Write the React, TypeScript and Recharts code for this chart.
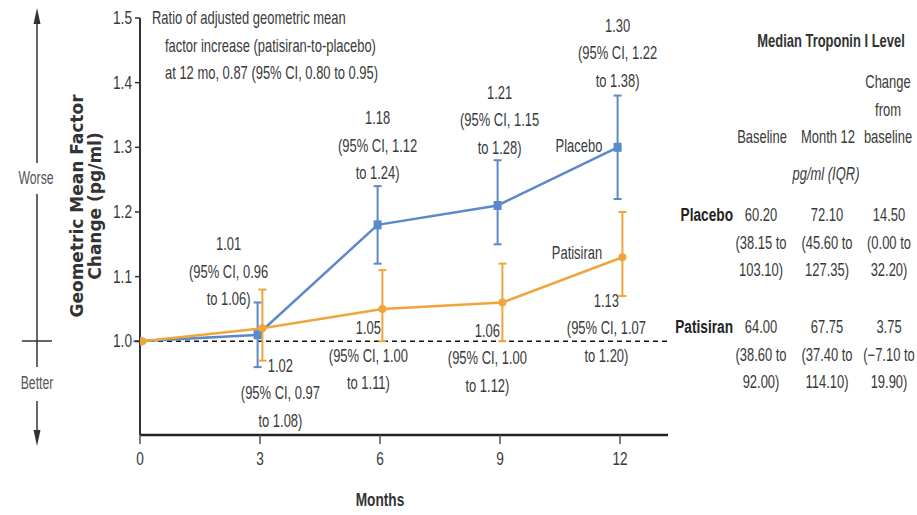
import React from "react"
import {
  LineChart,
  Line,
  XAxis,
  YAxis,
  ReferenceLine,
  ErrorBar,
  LabelList,
} from "recharts"

// months of follow-up
const months = [0, 3, 6, 9, 12]

// geometric mean factor change, with 95% CI
const placeboMean = [1.0, 1.01, 1.18, 1.21, 1.3]
const placeboLow = [1.0, 0.96, 1.12, 1.15, 1.22]
const placeboHigh = [1.0, 1.06, 1.24, 1.28, 1.38]

const patisiranMean = [1.0, 1.02, 1.05, 1.06, 1.13]
const patisiranLow = [1.0, 0.97, 1.0, 1.0, 1.07]
const patisiranHigh = [1.0, 1.08, 1.11, 1.12, 1.2]

const yTicks = [1.0, 1.1, 1.2, 1.3, 1.4, 1.5]

// median troponin I table (pg/ml, IQR)
const tableHeaders = ["Baseline", "Month 12", "baseline"]
const placeboRow = [
  ["60.20", "(38.15 to", "103.10)"],
  ["72.10", "(45.60 to", "127.35)"],
  ["14.50", "(0.00 to", "32.20)"],
]
const patisiranRow = [
  ["64.00", "(38.60 to", "92.00)"],
  ["67.75", "(37.40 to", "114.10)"],
  ["3.75", "(\u22127.10 to", "19.90)"],
]

// label placement relative to each point (layout only)
const placeboLabelPos = [null, { dx: -29, dy: -91 }, { dx: 0, dy: -107 }, { dx: 2, dy: -113 }, { dx: 0, dy: -122 }]
const patisiranLabelPos = [null, { dx: 18, dy: 37 }, { dx: -14, dy: 19 }, { dx: -15, dy: 28 }, { dx: -16, dy: 43 }]

const DODGE = 0.06
const BLUE = "#5b89c9"
const ORANGE = "#f0a53c"
const TEXT = "#3a3a3a"
const FONT = "'Liberation Sans', Arial, sans-serif"

const build = (mean: number[], low: number[], high: number[], shift: number) =>
  months.map((m, i) => ({
    x: m + shift,
    value: mean[i],
    lo: low[i],
    hi: high[i],
    err: [mean[i] - low[i], high[i] - mean[i]],
  }))

const placeboData = build(placeboMean, placeboLow, placeboHigh, -DODGE)
const patisiranData = build(patisiranMean, patisiranLow, patisiranHigh, DODGE)

// condensed-looking text: horizontally squeezed around its anchor
const NText = ({ x, y, anchor = "middle", size = 18, sx = 0.72, weight = "normal", italic = false, fill = TEXT, children }: any) => (
  <text
    transform={`translate(${x},${y}) scale(${sx},1)`}
    textAnchor={anchor}
    dominantBaseline="central"
    fontFamily={FONT}
    fontSize={size}
    fontWeight={weight}
    fontStyle={italic ? "italic" : "normal"}
    fill={fill}
  >
    {children}
  </text>
)

const XTick = (props: any) => {
  const { x, y, payload } = props
  return <NText x={x} y={y + 7} size={18} sx={0.76}>{payload.value}</NText>
}

const YTick = (props: any) => {
  const { x, y, payload } = props
  return <NText x={x} y={y} anchor="end" size={18} sx={0.76}>{payload.value.toFixed(1)}</NText>
}

const makeLabel = (rows: any[], pos: any[]) => (props: any) => {
  const { x, y, index } = props
  const p = pos[index]
  if (!p) return null
  const d = rows[index]
  const lines = [d.value.toFixed(2), `(95% CI, ${d.lo.toFixed(2)}`, `to ${d.hi.toFixed(2)})`]
  return (
    <g>
      {lines.map((t, k) => (
        <NText key={k} x={x + p.dx} y={y + p.dy + k * 27.5}>
          {t}
        </NText>
      ))}
    </g>
  )
}

const SquareDot = (props: any) => {
  const { cx, cy } = props
  if (cx == null || cy == null) return null
  return <rect x={cx - 4} y={cy - 4.5} width={8} height={9} fill={BLUE} />
}

const RoundDot = (props: any) => {
  const { cx, cy } = props
  if (cx == null || cy == null) return null
  return <circle cx={cx} cy={cy} r={4} fill={ORANGE} />
}

export default function App() {
  const colX = [761, 827, 889]
  return (
    <div style={{ position: "absolute", left: 0, top: 0, width: 917, height: 515, background: "#fff" }}>
      <LineChart width={917} height={515} margin={{ top: 18, right: 249, bottom: 50, left: 80 }}>
        <XAxis
          type="number"
          dataKey="x"
          domain={[0, 13.2]}
          allowDataOverflow
          ticks={months}
          height={30}
          tickSize={9}
          tickMargin={8}
          axisLine={{ stroke: "#222", strokeWidth: 2.5 }}
          tickLine={{ stroke: "#555", strokeWidth: 1.5 }}
          tick={<XTick />}
        />
        <YAxis
          type="number"
          domain={[0.855, 1.5]}
          allowDataOverflow
          ticks={yTicks}
          width={60}
          tickSize={5}
          tickMargin={3}
          axisLine={{ stroke: "#333", strokeWidth: 2 }}
          tickLine={{ stroke: "#333", strokeWidth: 1.5 }}
          tick={<YTick />}
        />
        <ReferenceLine y={1} stroke="#111" strokeWidth={1.5} strokeDasharray="5 4" />
        <Line
          data={placeboData}
          dataKey="value"
          stroke={BLUE}
          strokeWidth={2.5}
          dot={<SquareDot />}
          activeDot={false}
          isAnimationActive={false}
        >
          <ErrorBar dataKey="err" direction="y" width={4} stroke={BLUE} strokeWidth={2} />
          <LabelList dataKey="value" content={makeLabel(placeboData, placeboLabelPos)} />
        </Line>
        <Line
          data={patisiranData}
          dataKey="value"
          stroke={ORANGE}
          strokeWidth={2.5}
          dot={<RoundDot />}
          activeDot={false}
          isAnimationActive={false}
        >
          <ErrorBar dataKey="err" direction="y" width={4} stroke={ORANGE} strokeWidth={2} />
          <LabelList dataKey="value" content={makeLabel(patisiranData, patisiranLabelPos)} />
        </Line>
      </LineChart>

      <svg width={917} height={515} style={{ position: "absolute", left: 0, top: 0, pointerEvents: "none" }}>
        {/* worse / better arrow */}
        <g stroke="#333" strokeWidth={1.5}>
          <line x1={37} y1={22} x2={37} y2={163} />
          <line x1={37} y1={194} x2={37} y2={367} />
          <line x1={37} y1={401} x2={37} y2={432} />
          <line x1={22} y1={341} x2={52} y2={341} />
        </g>
        <polygon points="37,8 33.5,24 40.5,24" fill="#333" />
        <polygon points="37,446 33.5,430 40.5,430" fill="#333" />
        <NText x={36} y={178} size={18} sx={0.68} fill="#555">Worse</NText>
        <NText x={37} y={383} size={18} sx={0.68} fill="#555">Better</NText>

        {/* y axis title */}
        <g transform="translate(92,206) rotate(-90)" fontFamily="'DejaVu Sans', Verdana, sans-serif" fontWeight="bold" fontSize={17} fill="#333">
          <text x={0} y={-9} textAnchor="middle">Geometric Mean Factor</text>
          <text x={0} y={9} textAnchor="middle">Change (pg/ml)</text>
        </g>

        <NText x={380} y={500} size={19} weight="bold" fill="#333">Months</NText>

        {/* ratio annotation */}
        <NText x={152} y={18} anchor="start">Ratio of adjusted geometric mean</NText>
        <NText x={165} y={46} anchor="start">factor increase (patisiran-to-placebo)</NText>
        <NText x={165} y={73} anchor="start">at 12 mo, 0.87 (95% CI, 0.80 to 0.95)</NText>

        {/* series names */}
        <NText x={579} y={146}>Placebo</NText>
        <NText x={577} y={253}>Patisiran</NText>

        {/* median troponin table */}
        <NText x={831} y={41} size={18} weight="bold" fill="#333">Median Troponin I Level</NText>
        <NText x={888} y={82}>Change</NText>
        <NText x={888} y={110}>from</NText>
        {tableHeaders.map((h, i) => (
          <NText key={h} x={colX[i] + (i === 2 ? -1 : 1)} y={137}>
            {h}
          </NText>
        ))}
        <NText x={826} y={174} italic>pg/ml (IQR)</NText>

        <NText x={733} y={215} anchor="end" size={19} weight="bold" fill="#222">Placebo</NText>
        <NText x={733} y={327} anchor="end" size={19} weight="bold" fill="#222">Patisiran</NText>
        {placeboRow.map((col, i) =>
          col.map((v, k) => (
            <NText key={`pl-${i}-${k}`} x={colX[i]} y={215 + k * 27.5}>
              {v}
            </NText>
          ))
        )}
        {patisiranRow.map((col, i) =>
          col.map((v, k) => (
            <NText key={`pa-${i}-${k}`} x={colX[i]} y={327 + k * 27.5}>
              {v}
            </NText>
          ))
        )}
      </svg>
    </div>
  )
}
